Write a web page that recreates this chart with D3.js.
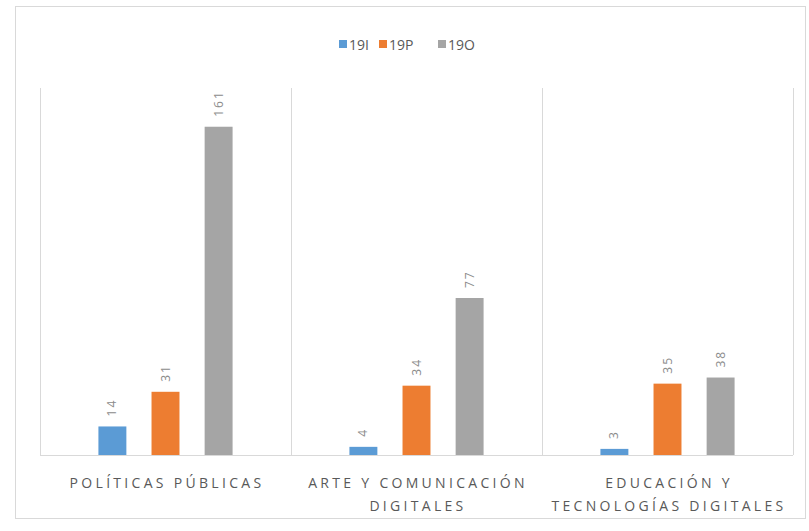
<!DOCTYPE html>
<html>
<head>
<meta charset="utf-8">
<script src="https://cdn.jsdelivr.net/npm/d3@7"></script>
<style>
  body { margin: 0; background: #fff; }
  text { font-family: "Open Sans", sans-serif; }
</style>
</head>
<body>
<div id="vis"></div>
<script>
// chart data
var categories = [["POLÍTICAS PÚBLICAS"], ["ARTE Y COMUNICACIÓN", "DIGITALES"], ["EDUCACIÓN Y", "TECNOLOGÍAS DIGITALES"]];
var seriesNames = ["19I", "19P", "19O"];
var values19I = [14, 4, 3];
var values19P = [31, 34, 35];
var values19O = [161, 77, 38];
var colors = ["#5b9bd5", "#ed7d31", "#a5a5a5"];

var seriesValues = [values19I, values19P, values19O];

var width = 809, height = 531;
var plot = {left: 40, right: 793, top: 88, bottom: 455};

var svg = d3.select("#vis").append("svg")
    .attr("width", width)
    .attr("height", height);

/* outer frame */
svg.append("rect")
    .attr("x", 15.5).attr("y", 6.5)
    .attr("width", 790).attr("height", 512)
    .attr("fill", "#fff")
    .attr("stroke", "#d9d9d9");

var x = d3.scaleBand()
    .domain(d3.range(categories.length))
    .range([plot.left, plot.right]);

var xInner = d3.scaleBand()
    .domain(d3.range(seriesNames.length))
    .range([0, x.bandwidth()])
    .paddingInner(0.9 / 1.9)
    .paddingOuter(1.1);

var y = d3.scaleLinear()
    .domain([0, 180])
    .range([plot.bottom, plot.top]);

/* vertical separators between categories */
svg.selectAll(".sep")
    .data(d3.range(categories.length + 1))
    .enter()
    .append("line")
    .attr("class", "sep")
    .attr("x1", function(d) { return Math.round(plot.left + d * x.step()) + 0.5; })
    .attr("x2", function(d) { return Math.round(plot.left + d * x.step()) + 0.5; })
    .attr("y1", plot.top)
    .attr("y2", plot.bottom)
    .attr("stroke", "#d9d9d9");

/* bars */
var groups = svg.selectAll(".cat")
    .data(d3.range(categories.length))
    .enter()
    .append("g")
    .attr("class", "cat")
    .attr("transform", function(i) { return "translate(" + x(i) + ",0)"; });

groups.selectAll("rect")
    .data(function(i) { return seriesValues.map(function(s, j) { return {s: j, v: s[i]}; }); })
    .enter()
    .append("rect")
    .attr("x", function(d) { return xInner(d.s); })
    .attr("y", function(d) { return y(d.v); })
    .attr("width", xInner.bandwidth())
    .attr("height", function(d) { return y(0) - y(d.v); })
    .attr("fill", function(d) { return colors[d.s]; });

/* value labels, rotated */
groups.selectAll(".val")
    .data(function(i) { return seriesValues.map(function(s, j) { return {s: j, v: s[i]}; }); })
    .enter()
    .append("text")
    .attr("class", "val")
    .attr("transform", function(d) {
        return "translate(" + (xInner(d.s) + xInner.bandwidth() / 2 + 4) + "," + (y(d.v) - 10) + ") rotate(-90)";
    })
    .attr("font-size", 12)
    .attr("letter-spacing", 2)
    .attr("fill", "#8c8c8c")
    .text(function(d) { return d.v; });

/* baseline */
svg.append("line")
    .attr("x1", plot.left).attr("x2", plot.right)
    .attr("y1", plot.bottom + 0.5).attr("y2", plot.bottom + 0.5)
    .attr("stroke", "#d9d9d9");

/* category labels */
var labels = svg.selectAll(".catlabel")
    .data(categories)
    .enter()
    .append("text")
    .attr("class", "catlabel")
    .attr("text-anchor", "middle")
    .attr("font-size", 14)
    .attr("letter-spacing", 3.3)
    .attr("fill", "#595959");

labels.selectAll("tspan")
    .data(function(d, i) { return d.map(function(t) { return {t: t, i: i}; }); })
    .enter()
    .append("tspan")
    .attr("x", function(d) { return x(d.i) + x.bandwidth() / 2 + 1.5; })
    .attr("y", function(d, k) { return 488 + k * 23; })
    .text(function(d) { return d.t; });

/* legend */
var legendX = [339, 379, 438];
var legend = svg.selectAll(".leg")
    .data(seriesNames)
    .enter()
    .append("g")
    .attr("class", "leg")
    .attr("transform", function(d, i) { return "translate(" + legendX[i] + ",38)"; });

legend.append("rect")
    .attr("width", 8).attr("height", 8)
    .attr("y", 2)
    .attr("fill", function(d, i) { return colors[i]; });

legend.append("text")
    .attr("x", 10)
    .attr("y", 12)
    .attr("font-size", 14)
    .attr("fill", "#595959")
    .text(function(d) { return d; });
</script>
</body>
</html>
